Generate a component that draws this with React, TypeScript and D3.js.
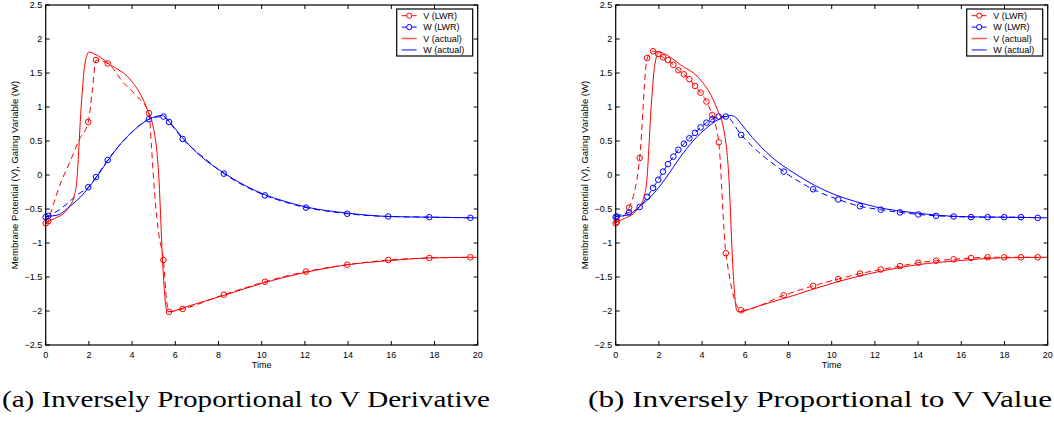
import React from 'react';
import * as d3 from 'd3';

// ---- data ----
const xTickValues = [0, 2, 4, 6, 8, 10, 12, 14, 16, 18, 20];
const yTickValues = [-2.5, -2, -1.5, -1, -0.5, 0, 0.5, 1, 1.5, 2, 2.5];
const legendLabels = ['V (LWR)', 'W (LWR)', 'V (actual)', 'W (actual)'];
const captions = ['(a) Inversely Proportional to V Derivative', '(b) Inversely Proportional to V Value'];

// actual solution (solid lines), same in both panels
const vActualT = [0, 0.4, 0.85, 1.1, 1.31, 1.45, 1.54, 1.62, 1.7, 1.78, 1.85, 1.93, 2.0, 2.2, 2.39, 3.0, 3.78, 4.1, 4.4, 4.71, 4.94, 5.05, 5.17, 5.25, 5.32, 5.4, 5.5, 5.57, 5.64, 5.75, 6.4, 7.0, 8.25, 10.15, 12.05, 13.96, 15.86, 17.76, 20];
const vActualV = [-0.70, -0.64, -0.56, -0.46, -0.32, -0.05, 0.42, 0.9, 1.25, 1.55, 1.69, 1.78, 1.81, 1.79, 1.76, 1.62, 1.45, 1.33, 1.18, 0.96, 0.76, 0.58, 0.27, -0.1, -0.6, -1.2, -1.72, -1.95, -2.01, -2.01, -1.95, -1.89, -1.77, -1.58, -1.43, -1.32, -1.26, -1.22, -1.21];
const wActualT = [0, 0.54, 1.16, 1.62, 2.0, 2.31, 2.85, 3.47, 4.09, 4.78, 5.1, 5.35, 5.55, 5.71, 6.33, 7.2, 8.25, 9.2, 10.15, 11.1, 12.05, 13.96, 15.86, 17.76, 20];
const wActualW = [-0.61, -0.59, -0.45, -0.32, -0.18, -0.05, 0.2, 0.46, 0.66, 0.82, 0.86, 0.875, 0.85, 0.79, 0.55, 0.27, 0.03, -0.15, -0.29, -0.39, -0.47, -0.56, -0.61, -0.62, -0.63];

// panel (a): LWR markers
const aMarkT = [0, 0.12, 1.97, 2.33, 2.87, 4.78, 5.45, 5.71, 6.34, 8.25, 10.15, 12.05, 13.96, 15.86, 17.76, 19.66];
const aMarkV = [-0.71, -0.68, 0.78, 1.69, 1.64, 0.91, -1.25, -2.01, -1.97, -1.76, -1.57, -1.42, -1.32, -1.25, -1.22, -1.21];
const aMarkW = [-0.62, -0.60, -0.18, -0.03, 0.22, 0.82, 0.86, 0.78, 0.53, 0.02, -0.30, -0.48, -0.57, -0.61, -0.62, -0.63];
// panel (a): LWR dashed curves
const aDashVT = [0, 0.12, 0.23, 0.69, 1.16, 1.54, 1.97, 2.16, 2.33, 2.87, 3.62, 4.24, 4.78, 4.9, 5.05, 5.25, 5.45, 5.6, 5.71, 6.34, 8.25, 10.15, 12.05, 13.96, 15.86, 17.76, 19.66];
const aDashV = [-0.71, -0.68, -0.56, -0.12, 0.22, 0.51, 0.78, 1.25, 1.69, 1.64, 1.35, 1.15, 0.91, 0.4, -0.3, -0.9, -1.25, -1.85, -2.01, -1.97, -1.76, -1.57, -1.42, -1.32, -1.25, -1.22, -1.21];
const aDashWT = [0, 0.12, 0.38, 1.0, 1.46, 1.97, 2.33, 2.87, 3.78, 4.78, 5.45, 5.71, 6.34, 7.3, 8.25, 9.2, 10.15, 11.1, 12.05, 13.0, 13.96, 15.86, 17.76, 19.66];
const aDashW = [-0.62, -0.60, -0.56, -0.42, -0.29, -0.18, -0.03, 0.22, 0.56, 0.82, 0.86, 0.78, 0.53, 0.26, 0.02, -0.16, -0.30, -0.40, -0.48, -0.53, -0.57, -0.61, -0.62, -0.63];

// panel (b): LWR markers (dashed curves pass through them)
const bMarkT = [0, 0.05, 0.62, 1.11, 1.46, 1.73, 1.97, 2.19, 2.42, 2.67, 2.90, 3.16, 3.41, 3.67, 3.93, 4.20, 4.47, 4.77, 5.10, 5.81, 7.78, 9.14, 10.3, 11.31, 12.27, 13.16, 14.01, 14.83, 15.65, 16.45, 17.22, 17.99, 18.76, 19.54];
const bMarkV = [-0.71, -0.69, -0.48, 0.25, 1.72, 1.82, 1.78, 1.73, 1.69, 1.62, 1.54, 1.48, 1.41, 1.31, 1.21, 1.08, 0.88, 0.48, -1.15, -1.99, -1.77, -1.63, -1.53, -1.45, -1.39, -1.34, -1.29, -1.26, -1.24, -1.22, -1.21, -1.21, -1.21, -1.21];
const bMarkW = [-0.62, -0.61, -0.55, -0.47, -0.32, -0.19, -0.07, 0.05, 0.16, 0.27, 0.37, 0.46, 0.54, 0.62, 0.70, 0.77, 0.82, 0.86, 0.86, 0.59, 0.05, -0.21, -0.36, -0.46, -0.51, -0.55, -0.58, -0.60, -0.61, -0.62, -0.62, -0.62, -0.62, -0.63];

const RED = '#ff0000';
const BLUE = '#0000ff';
const FONT = 'Liberation Sans, Arial, Helvetica, sans-serif';

type P = [number, number];
const zip = (a: number[], b: number[]): P[] => a.map((v, i) => [v, b[i]]);
const fmt = (v: number) => (v < 0 ? '\u2212' + String(-v) : String(v));

function Panel(props: {
  left: number;
  markT: number[]; markV: number[]; markW: number[];
  dashVT: number[]; dashV: number[]; dashWT: number[]; dashW: number[];
  caption: string; capX: number; capLen: number;
}) {
  const { left } = props;
  const plotW = 432, top = 5, plotH = 340;
  const x = d3.scaleLinear().domain([0, 20]).range([left, left + plotW]);
  const y = d3.scaleLinear().domain([-2.5, 2.5]).range([top + plotH, top]);
  const line = d3.line<P>().x(d => x(d[0])).y(d => y(d[1])).curve(d3.curveMonotoneX);
  const tl = 4;

  const series = [
    { pts: zip(props.dashVT, props.dashV), color: RED, dash: '6,4', marks: zip(props.markT, props.markV) },
    { pts: zip(props.dashWT, props.dashW), color: BLUE, dash: '6,4', marks: zip(props.markT, props.markW) },
    { pts: zip(vActualT, vActualV), color: RED, dash: undefined, marks: [] as P[] },
    { pts: zip(wActualT, wActualW), color: BLUE, dash: undefined, marks: [] as P[] },
  ];

  const lgX = left + plotW - 81, lgY = 9, lgW = 76, lgH = 47;

  return (
    <g>
      {/* data */}
      {series.map((s, i) => (
        <g key={i}>
          <path d={line(s.pts) || ''} fill="none" stroke={s.color} strokeWidth={1} strokeDasharray={s.dash} />
          {s.marks.map((m, j) => (
            <circle key={j} cx={x(m[0])} cy={y(m[1])} r={2.8} fill="none" stroke={s.color} strokeWidth={1} />
          ))}
        </g>
      ))}
      {/* axes box */}
      <rect x={left} y={top} width={plotW} height={plotH} fill="none" stroke="#000" strokeWidth={1.2} />
      {xTickValues.map(t => (
        <g key={'x' + t}>
          <line x1={x(t)} x2={x(t)} y1={top + plotH} y2={top + plotH - tl} stroke="#000" strokeWidth={1} />
          <line x1={x(t)} x2={x(t)} y1={top} y2={top + tl} stroke="#000" strokeWidth={1} />
          <text x={x(t)} y={top + plotH + 12.5} textAnchor="middle" fontSize={9} fontFamily={FONT} fill="#000">{fmt(t)}</text>
        </g>
      ))}
      {yTickValues.map(v => (
        <g key={'y' + v}>
          <line x1={left} x2={left + tl} y1={y(v)} y2={y(v)} stroke="#000" strokeWidth={1} />
          <line x1={left + plotW} x2={left + plotW - tl} y1={y(v)} y2={y(v)} stroke="#000" strokeWidth={1} />
          <text x={left - 3.5} y={y(v)} dy="0.35em" textAnchor="end" fontSize={9} fontFamily={FONT} fill="#000">{fmt(v)}</text>
        </g>
      ))}
      <text x={left + plotW / 2} y={368} textAnchor="middle" fontSize={9} fontFamily={FONT} fill="#000">Time</text>
      <text transform={`translate(${left - 31.5},${top + plotH / 2}) rotate(-90)`} dy="0.35em" textAnchor="middle" fontSize={9.5} fontFamily={FONT} fill="#000">
        Membrane Potential (V), Gating Variable (W)
      </text>
      {/* legend */}
      <rect x={lgX} y={lgY} width={lgW} height={lgH} fill="#fff" stroke="#000" strokeWidth={1.2} />
      {legendLabels.map((lab, i) => {
        const yy = lgY + 6.7 + i * 11.4;
        const color = i % 2 === 0 ? RED : BLUE;
        return (
          <g key={lab}>
            <line x1={lgX + 5} x2={lgX + 20} y1={yy} y2={yy} stroke={color} strokeWidth={i < 2 ? 1 : 1.5} strokeOpacity={i < 2 ? 1 : 0.65} />
            {i < 2 && <circle cx={lgX + 12.5} cy={yy} r={2.6} fill="#fff" stroke={color} strokeWidth={1} />}
            <text x={lgX + 26.5} y={yy} dy="0.35em" fontSize={9} fontFamily={FONT} fill="#000">{lab}</text>
          </g>
        );
      })}
      {/* caption */}
      <text x={props.capX} y={407} fontSize={24} fontFamily="'Liberation Serif', 'Times New Roman', serif" fill="#000" textLength={props.capLen} lengthAdjust="spacingAndGlyphs">
        {props.caption}
      </text>
    </g>
  );
}

export default function App() {
  return (
    <svg width={1054} height={423} style={{ position: 'absolute', left: 0, top: 0, background: '#fff' }}>
      <rect x={0} y={0} width={1054} height={423} fill="#fff" />
      <Panel left={45.7} markT={aMarkT} markV={aMarkV} markW={aMarkW}
        dashVT={aDashVT} dashV={aDashV} dashWT={aDashWT} dashW={aDashW}
        caption={captions[0]} capX={2} capLen={488} />
      <Panel left={615.7} markT={bMarkT} markV={bMarkV} markW={bMarkW}
        dashVT={bMarkT} dashV={bMarkV} dashWT={bMarkT} dashW={bMarkW}
        caption={captions[1]} capX={588} capLen={464} />
    </svg>
  );
}
